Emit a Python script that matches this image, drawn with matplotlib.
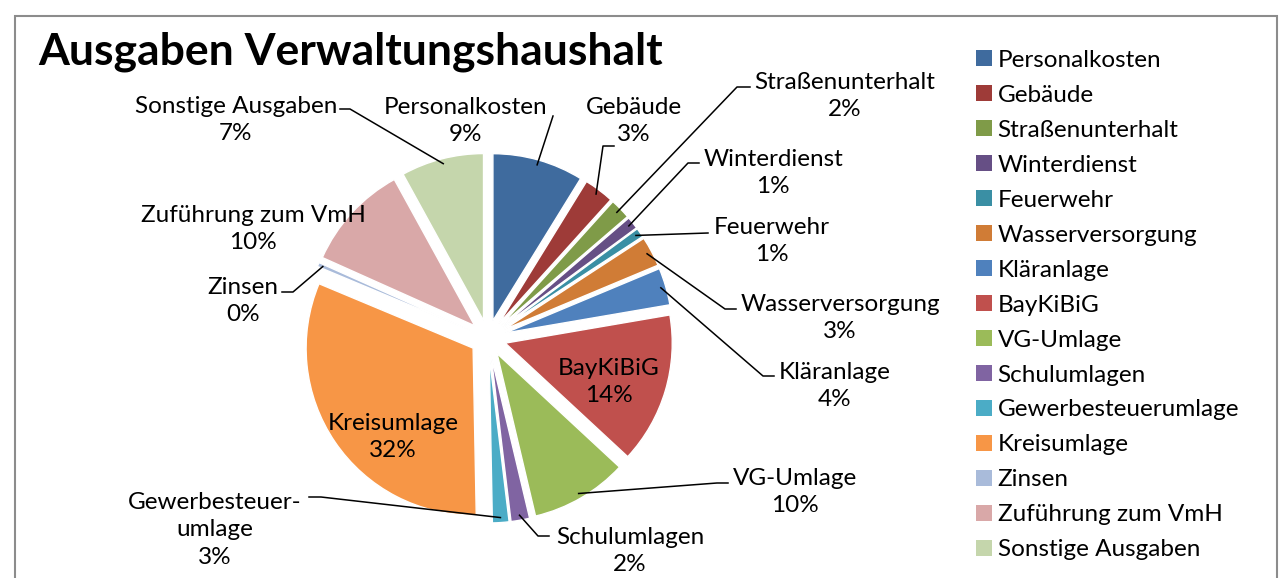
import numpy as np
import matplotlib.pyplot as plt
from matplotlib.patches import Patch, Rectangle

W, H = 1279, 578

categories = ["Personalkosten", "Gebäude", "Straßenunterhalt", "Winterdienst",
              "Feuerwehr", "Wasserversorgung", "Kläranlage", "BayKiBiG",
              "VG-Umlage", "Schulumlagen", "Gewerbesteuerumlage", "Kreisumlage",
              "Zinsen", "Zuführung zum VmH", "Sonstige Ausgaben"]
# slice sizes (percent)
shares = [8.8, 2.9, 2.0, 1.2, 0.9, 2.9, 3.6, 14.6, 9.4, 1.8, 1.6, 31.6, 0.4, 10.3, 8.0]
# percentages as printed on the chart
pct_text = ["9%", "3%", "2%", "1%", "1%", "3%", "4%", "14%", "10%", "2%", "3%",
            "32%", "0%", "10%", "7%"]
label_names = ["Personalkosten", "Gebäude", "Straßenunterhalt", "Winterdienst",
               "Feuerwehr", "Wasserversorgung", "Kläranlage", "BayKiBiG",
               "VG-Umlage", "Schulumlagen", "Gewerbesteuer-\numlage", "Kreisumlage",
               "Zinsen", "Zuführung zum VmH", "Sonstige Ausgaben"]
colors = ["#3F6B9E", "#9E3B38", "#7F9B48", "#664F85", "#3A8FA4", "#D07C36",
          "#4F81BD", "#C0504D", "#9BBB59", "#8064A2", "#4BACC6", "#F79646",
          "#A9BBDA", "#D9A8A8", "#C5D6AC"]

# layout (pixel coordinates, y downwards)
cx, cy, R, E = 488, 338, 167, 18
label_pos = [(466, 121), (634, 121), (845, 96), (773, 173), (772, 241),
             (840, 318), (835, 386), (609, 382), (795, 492), (630, 551),
             (215, 530), (393, 437), (243, 301), (253, 229), (236, 120)]
leader = [[(553, 116)], [(614, 146), (603, 146)], [(750, 87), (737, 87)],
          [(699, 163), (688, 163)], [(708, 233)], [(736, 309), (725, 309)],
          [(774, 376), (763, 376)], None, [(728, 483), (717, 483)],
          [(549, 536), (538, 536)], [(309, 497), (321, 497)], None,
          [(282, 292), (293, 292)], None, [(340, 109), (350, 109)]]

plt.rcParams['font.family'] = ['Lato', 'DejaVu Sans']
fig = plt.figure(figsize=(W / 100, H / 100), dpi=100)
ax = fig.add_axes([0, 0, 1, 1])

wedges, _ = ax.pie(shares, colors=colors, startangle=90, counterclock=False,
                   radius=R, center=(cx, H - cy), explode=[E] * len(shares),
                   wedgeprops=dict(edgecolor='white', linewidth=1.0))
ax.set_xlim(0, W)
ax.set_ylim(0, H)
ax.set_aspect('equal')
ax.axis('off')

fs = 17.5
total = sum(shares)
cum = np.concatenate([[0], np.cumsum(shares)]) / total
for i, name in enumerate(label_names):
    mid = np.radians(90 - 360 * (cum[i] + cum[i + 1]) / 2)
    lx, ly = label_pos[i]
    ax.text(lx, H - ly, name + "\n" + pct_text[i], ha='center', va='center',
            fontsize=fs, linespacing=1.4, color='black')
    if leader[i] is not None:
        end = (cx + (E + R * 0.97) * np.cos(mid), H - cy + (E + R * 0.97) * np.sin(mid))
        xs = [p[0] for p in leader[i]] + [end[0]]
        ys = [H - p[1] for p in leader[i]] + [end[1]]
        ax.plot(xs, ys, color='black', lw=1.1)

fig.text(38 / W, 1 - 52 / H, "Ausgaben Verwaltungshaushalt", fontsize=32,
         fontweight='bold', va='center', ha='left')

handles = [Patch(facecolor=c, edgecolor='none') for c in colors]
ax.legend(handles, categories, loc='upper left', bbox_to_anchor=(966 / W, 1 - 40 / H),
          frameon=False, fontsize=fs, handlelength=0.65, handleheight=0.65,
          handletextpad=0.25, labelspacing=0.575, borderaxespad=0)

fig.patches.append(Rectangle((15 / W, -0.05), (1277 - 15) / W, 1.05 - 16 / H,
                             transform=fig.transFigure, fill=False,
                             edgecolor='#8c8c8c', linewidth=1.5))

fig.savefig('out.png', dpi=100, facecolor='white')
